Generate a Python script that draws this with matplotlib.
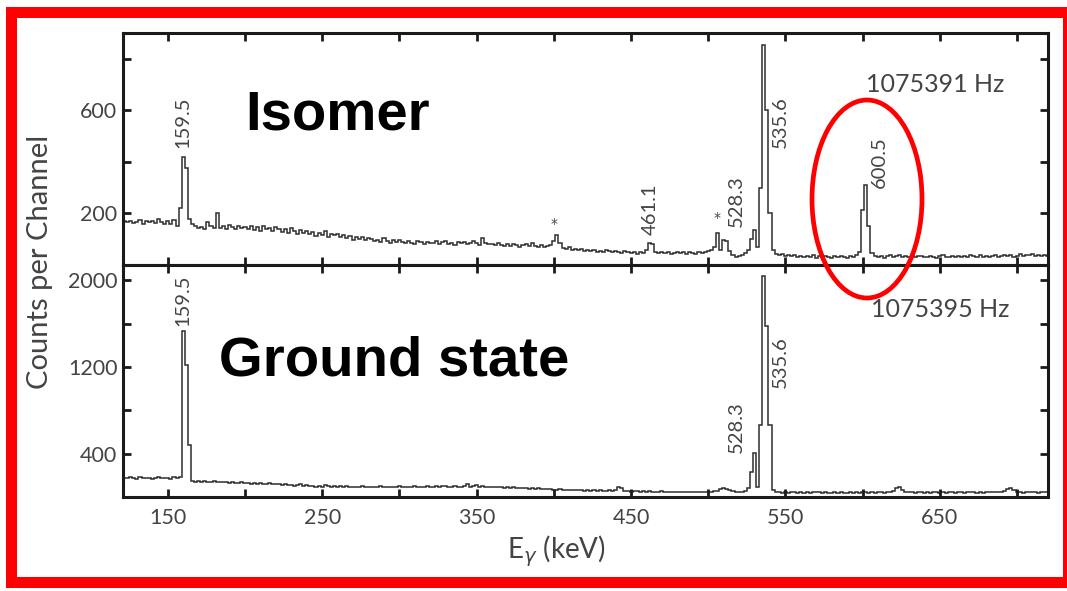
import numpy as np
import matplotlib
matplotlib.use("Agg")
import matplotlib.pyplot as plt
from matplotlib.patches import Ellipse, Rectangle

# ---------------- data ----------------
bin_start = 121          # keV, first channel edge
bin_width = 2            # keV per channel

# Isomer spectrum (counts per channel), channels 121..719 keV
isomer_counts = [
    172, 165, 170, 162, 168, 175, 160, 170, 166, 172,
    164, 178, 168, 160, 172, 158, 175, 150, 220, 419,
    376, 180, 160, 150, 142, 148, 140, 165, 150, 144,
    200, 145, 150, 140, 155, 148, 138, 150, 142, 146,
    140, 152, 136, 148, 132, 150, 140, 144, 130, 146,
    138, 128, 140, 125, 142, 130, 120, 135, 126, 132,
    120, 128, 112, 125, 118, 130, 110, 122, 116, 120,
    108, 118, 104, 112, 98, 110, 102, 108, 96, 104,
    100, 92, 98, 88, 104, 94, 86, 96, 90, 98,
    90, 84, 92, 86, 80, 94, 88, 82, 90, 86,
    84, 92, 80, 88, 94, 82, 86, 78, 90, 85,
    88, 80, 86, 92, 84, 78, 104, 86, 82, 80,
    78, 84, 76, 72, 80, 74, 82, 76, 70, 78,
    80, 74, 86, 72, 70, 76, 68, 72, 78, 92,
    116, 85, 66, 62, 68, 60, 64, 58, 62, 56,
    58, 54, 60, 52, 56, 50, 58, 54, 50, 56,
    52, 48, 56, 50, 46, 52, 44, 50, 48, 60,
    85, 82, 50, 48, 52, 46, 50, 44, 48, 52,
    46, 50, 44, 52, 48, 42, 50, 46, 52, 56,
    58, 70, 124, 60, 97, 95, 55, 40, 32, 34,
    40, 46, 60, 100, 136, 70, 300, 853, 600, 200,
    60, 42, 38, 44, 36, 40, 34, 38, 32, 36,
    30, 36, 32, 38, 28, 34, 30, 36, 32, 28,
    34, 30, 36, 32, 28, 34, 30, 38, 50, 213,
    310, 150, 45, 34, 30, 36, 28, 34, 38, 30,
    34, 40, 30, 36, 32, 38, 30, 34, 36, 32,
    30, 36, 32, 28, 34, 38, 30, 32, 36, 30,
    34, 30, 36, 32, 40, 34, 30, 38, 32, 36,
    30, 34, 38, 32, 36, 40, 34, 38, 32, 36,
    42, 36, 40, 38, 44, 36, 40, 34, 38, 36,
]

# Ground-state spectrum
ground_counts = [
    178, 172, 180, 174, 170, 182, 176, 172, 178, 170,
    176, 182, 172, 178, 174, 168, 180, 172, 180, 1528,
    1222, 481, 150, 140, 148, 138, 146, 142, 136, 144,
    140, 134, 142, 136, 130, 138, 132, 128, 136, 130,
    128, 122, 130, 120, 126, 118, 124, 128, 116, 122,
    118, 112, 120, 108, 114, 106, 112, 118, 104, 110,
    106, 100, 96, 104, 92, 112, 98, 94, 100, 96,
    98, 92, 100, 94, 90, 96, 92, 98, 88, 94,
    96, 90, 94, 98, 92, 88, 96, 90, 94, 98,
    92, 96, 90, 94, 100, 92, 96, 90, 98, 94,
    96, 100, 94, 98, 104, 96, 92, 100, 96, 94,
    102, 118, 96, 100, 110, 94, 98, 92, 96, 90,
    94, 88, 92, 86, 90, 84, 88, 82, 86, 80,
    84, 78, 82, 76, 80, 74, 70, 76, 72, 68,
    66, 70, 64, 68, 62, 66, 60, 64, 62, 58,
    62, 58, 64, 56, 60, 54, 58, 62, 56, 60,
    93, 85, 58, 54, 50, 56, 52, 48, 54, 50,
    52, 48, 50, 46, 52, 48, 44, 50, 46, 48,
    50, 46, 48, 44, 50, 46, 42, 48, 44, 50,
    46, 52, 56, 70, 80, 75, 62, 55, 50, 46,
    50, 55, 80, 231, 407, 93, 667, 2037, 1574, 667,
    60, 42, 46, 40, 44, 38, 42, 46, 40, 44,
    40, 44, 38, 46, 50, 42, 38, 44, 40, 36,
    42, 38, 44, 40, 36, 42, 38, 44, 40, 46,
    42, 38, 44, 40, 46, 42, 38, 44, 48, 52,
    83, 90, 60, 46, 42, 48, 40, 44, 42, 38,
    44, 40, 46, 42, 38, 44, 40, 46, 42, 38,
    42, 46, 40, 44, 48, 42, 38, 44, 40, 46,
    42, 48, 44, 50, 46, 56, 70, 83, 60, 46,
    44, 40, 46, 42, 48, 44, 40, 46, 42, 44,
]

x_ticks = [150, 200, 250, 300, 350, 400, 450, 500, 550, 600, 650, 700]
x_tick_labels = ["150", "", "250", "", "350", "", "450", "", "550", "", "650", ""]
isomer_yticks = [200, 400, 600, 800]
isomer_ytick_labels = ["200", "", "600", ""]
ground_yticks = [400, 800, 1200, 1600, 2000]
ground_ytick_labels = ["400", "", "1200", "", "2000"]

isomer_peak_labels = ["159.5", "461.1", "528.3", "535.6", "600.5"]
isomer_peak_x = [159.7, 462.2, 518.5, 546.4, 610.5]
isomer_peak_y = [453, 116, 147, 453, 298]
isomer_star_x = [400.0, 505.7]
isomer_star_y = [160, 184]

ground_peak_labels = ["159.5", "528.3", "535.6"]
ground_peak_x = [159.7, 518.0, 546.4]
ground_peak_y = [1574, 407, 1009]

isomer_freq = "1075391 Hz"
ground_freq = "1075395 Hz"

# ---------------- figure ----------------
W, H = 1067, 591
fig = plt.figure(figsize=(W / 100, H / 100), dpi=100)
fig.patch.set_facecolor("white")

def fx(px):
    return px / W

def fy(py):
    return 1 - py / H

FONT = ["Lato", "DejaVu Sans"]
TXT = "#444444"
LINE = "#2e2e2e"

ax1 = fig.add_axes([fx(123), fy(265), (1048 - 123) / W, (265 - 33) / H])
ax2 = fig.add_axes([fx(123), fy(497), (1048 - 123) / W, (497 - 265) / H])

edges = bin_start + bin_width * np.arange(len(isomer_counts) + 1)

for ax, counts, ylim, yt, ytl in [
    (ax1, isomer_counts, (0, 900), isomer_yticks, isomer_ytick_labels),
    (ax2, ground_counts, (0, 2140), ground_yticks, ground_ytick_labels),
]:
    ax.stairs(counts, edges, color=LINE, linewidth=1.1)
    ax.set_xlim(121, 720)
    ax.set_ylim(*ylim)
    ax.set_xticks(x_ticks)
    ax.set_yticks(yt)
    ax.set_yticklabels(ytl, fontfamily=FONT, fontsize=15.5, color=TXT)
    for s in ax.spines.values():
        s.set_linewidth(2.2)
        s.set_color("#1a1a1a")
    ax.tick_params(axis="both", which="both", direction="in", top=True,
                   right=True, length=6, width=2, color="#1a1a1a", pad=4)

ax1.set_xticklabels([])
ax2.set_xticklabels(x_tick_labels, fontfamily=FONT, fontsize=15.5, color=TXT)
ax2.tick_params(axis="x", pad=8)

# peak labels
for lab, x, y in zip(isomer_peak_labels, isomer_peak_x, isomer_peak_y):
    ax1.text(x, y, lab, rotation=90, ha="center", va="bottom",
             fontsize=14.5, fontfamily=FONT, color=TXT)
for x, y in zip(isomer_star_x, isomer_star_y):
    ax1.text(x, y, "*", ha="center", va="center", fontsize=10,
             fontfamily=["DejaVu Sans"], color=TXT)
for lab, x, y in zip(ground_peak_labels, ground_peak_x, ground_peak_y):
    ax2.text(x, y, lab, rotation=90, ha="center", va="bottom",
             fontsize=14.5, fontfamily=FONT, color=TXT)

fig.text(fx(866), fy(92), isomer_freq, fontsize=18, fontfamily=FONT,
         color=TXT, va="baseline", ha="left")
fig.text(fx(871), fy(317), ground_freq, fontsize=18, fontfamily=FONT,
         color=TXT, va="baseline", ha="left")

# big labels
fig.text(fx(245), fy(129), "Isomer", fontsize=40.5, fontweight="bold",
         fontfamily=["Liberation Sans", "DejaVu Sans"], color="black",
         va="baseline", ha="left")
fig.text(fx(219), fy(375), "Ground state", fontsize=40.5, fontweight="bold",
         fontfamily=["Liberation Sans", "DejaVu Sans"], color="black",
         va="baseline", ha="left")

# axis labels
fig.text(fx(40), fy(262), "Counts per Channel", rotation=90, ha="center",
         va="center", fontsize=21, fontfamily=FONT, color=TXT)
fig.text(fx(556), fy(551), r"E$_\gamma$ (keV)", ha="center", va="center",
         fontsize=20, fontfamily=FONT, color=TXT)

# red ellipse highlight
ell = Ellipse((fx(867), fy(199)), 110 / W, 198 / H, transform=fig.transFigure,
              fill=False, edgecolor="#ff0000", linewidth=3.4, zorder=10)
fig.add_artist(ell)

# red frame
for (x0, y0, x1, y1) in [(6, 7, 17, 588), (6, 7, 1067, 18),
                         (6, 577, 1067, 588), (1063, 7, 1067, 588)]:
    r = Rectangle((fx(x0), fy(y1)), (x1 - x0) / W, (y1 - y0) / H,
                  transform=fig.transFigure, facecolor="#ff0000",
                  edgecolor="none", zorder=11)
    fig.add_artist(r)

fig.savefig("out.png", dpi=100, facecolor="white")
